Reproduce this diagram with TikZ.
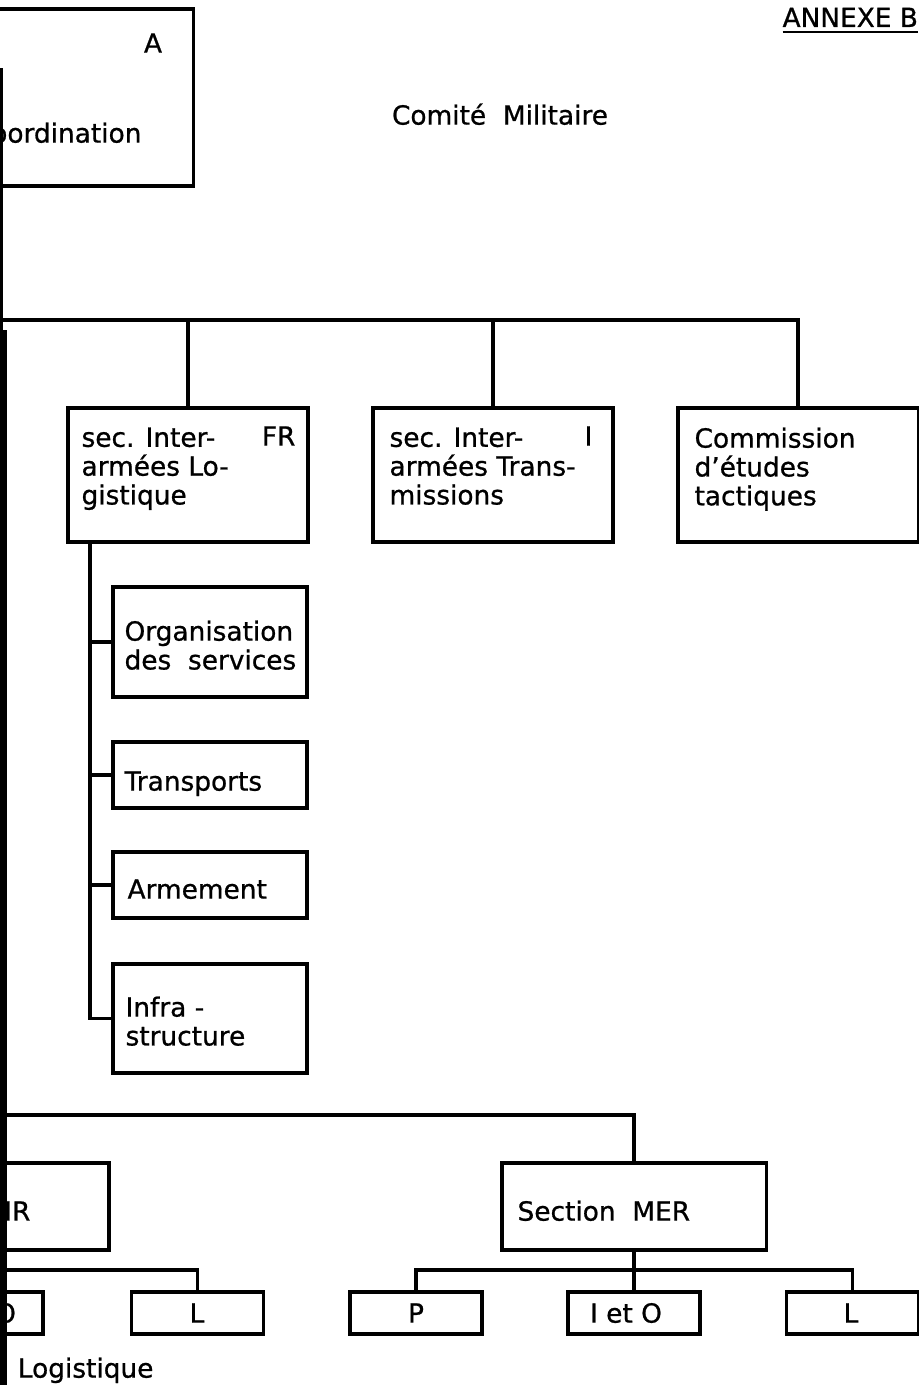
\documentclass[tikz,border=0pt]{standalone}
\usepackage{fontspec}
\setmainfont{DejaVu Sans}[UprightFeatures={FakeBold=0.8}]
\tikzset{
  box/.style={draw, line width=0.9pt, rectangle, inner sep=0pt},
  txt/.style={inner sep=0pt, font=\fontsize{7.5}{8.2}\selectfont, align=left},
}
\begin{document}
\begin{tikzpicture}[x=0.01cm,y=-0.01cm,line width=0.9pt]
\useasboundingbox (0,0) rectangle (919,1385);
\clip (0,0) rectangle (919,1385);
\node[box, minimum width=3.00cm, minimum height=1.77cm] (coord) at (43,97.5){};
\node[txt, anchor=mid] (coordA) at (153,43){A};
\node[txt, anchor=mid east] (coordt) at (143,133){Coordination};
\node[txt, anchor=base west] (annex) at (781,27){\underline{ANNEXE B}};
\node[txt, anchor=mid] (cm) at (500,115){Comité\ \ Militaire};
\coordinate (bus1) at (-40,320);
\node[box, minimum width=2.40cm, minimum height=1.34cm] (fr) at (188,475){};
\node[box, minimum width=2.40cm, minimum height=1.34cm] (tr) at (493,475){};
\node[box, minimum width=2.40cm, minimum height=1.34cm] (tac) at (798,475){};
\node[txt, anchor=north west] (frt) at (80,426){sec. Inter-\\armées Lo-\\gistique};
\node[txt, anchor=mid east] (frc) at (297,436){FR};
\node[txt, anchor=north west] (trt) at (388,426){sec. Inter-\\armées Trans-\\missions};
\node[txt, anchor=mid east] (trc) at (594,436){I};
\node[txt, anchor=north west] (tact) at (693,426){Commission\\d'études\\tactiques};
\draw[](bus1) -| (tac.north);
\draw[](fr.north) -- (fr.north |- bus1);
\draw[](tr.north) -- (tr.north |- bus1);
\node[box, minimum width=1.94cm, minimum height=1.10cm] (org) at (210,642){};
\node[box, minimum width=1.94cm, minimum height=0.66cm] (trans) at (210,775){};
\node[box, minimum width=1.94cm, minimum height=0.66cm] (arm) at (210,885){};
\node[box, minimum width=1.94cm, minimum height=1.09cm] (infra) at (210,1018.5){};
\node[txt, anchor=north west] (orgt) at (123,619){Organisation\\des\ \ services};
\node[txt, anchor=mid west] (transt) at (123,781){Transports};
\node[txt, anchor=mid west] (armt) at (126,889){Armement};
\node[txt, anchor=north west] (infrat) at (124,995){Infra -\\structure};
\coordinate (spine) at (90,542);
\draw[](spine) |- (infra.west);
\draw[](spine |- org.west) -- (org.west);
\draw[](spine |- trans.west) -- (trans.west);
\draw[](spine |- arm.west) -- (arm.west);
\coordinate (bus2) at (-40,1115);
\node[box, minimum width=2.64cm, minimum height=0.87cm] (air) at (-23,1206.5){};
\node[box, minimum width=2.64cm, minimum height=0.87cm] (mer) at (634,1206.5){};
\node[txt, anchor=mid east] (airt) at (32,1211){Section\ \ AIR};
\node[txt, anchor=mid west] (mert) at (516,1211){Section\ \ MER};
\draw[](bus2) -| (mer.north);
\draw[](air.north) -- (air.north |- bus2);
\node[box, minimum width=1.32cm, minimum height=0.42cm] (aio) at (-23,1313){};
\node[box, minimum width=1.32cm, minimum height=0.42cm] (al) at (197.5,1313){};
\node[box, minimum width=1.32cm, minimum height=0.42cm] (mp) at (416,1313){};
\node[box, minimum width=1.32cm, minimum height=0.42cm] (mio) at (634,1313){};
\node[box, minimum width=1.32cm, minimum height=0.42cm] (ml) at (852.5,1313){};
\node[txt, anchor=mid] (aiot) at (-20,1313){I et O};
\node[txt, anchor=mid] (alt) at (197,1313){L};
\node[txt, anchor=mid] (mpt) at (416,1313){P};
\node[txt, anchor=mid] (miot) at (626,1313){I et O};
\node[txt, anchor=mid] (mlt) at (851,1313){L};
\coordinate (abus) at (aio.north |- 0,1270);
\coordinate (mbus) at (mio.north |- 0,1270);
\draw[](air.south) -- (aio.north);
\draw[](abus) -| (al.north);
\draw[](mer.south) -- (mio.north);
\draw[](mp.north) |- (mbus) -| (ml.north);
\node[txt, anchor=mid east] (legend) at (155,1368){L = Logistique};
\fill (0,68) rectangle (3,330);
\fill (0,330) rectangle (7,1385);
\end{tikzpicture}
\end{document}
